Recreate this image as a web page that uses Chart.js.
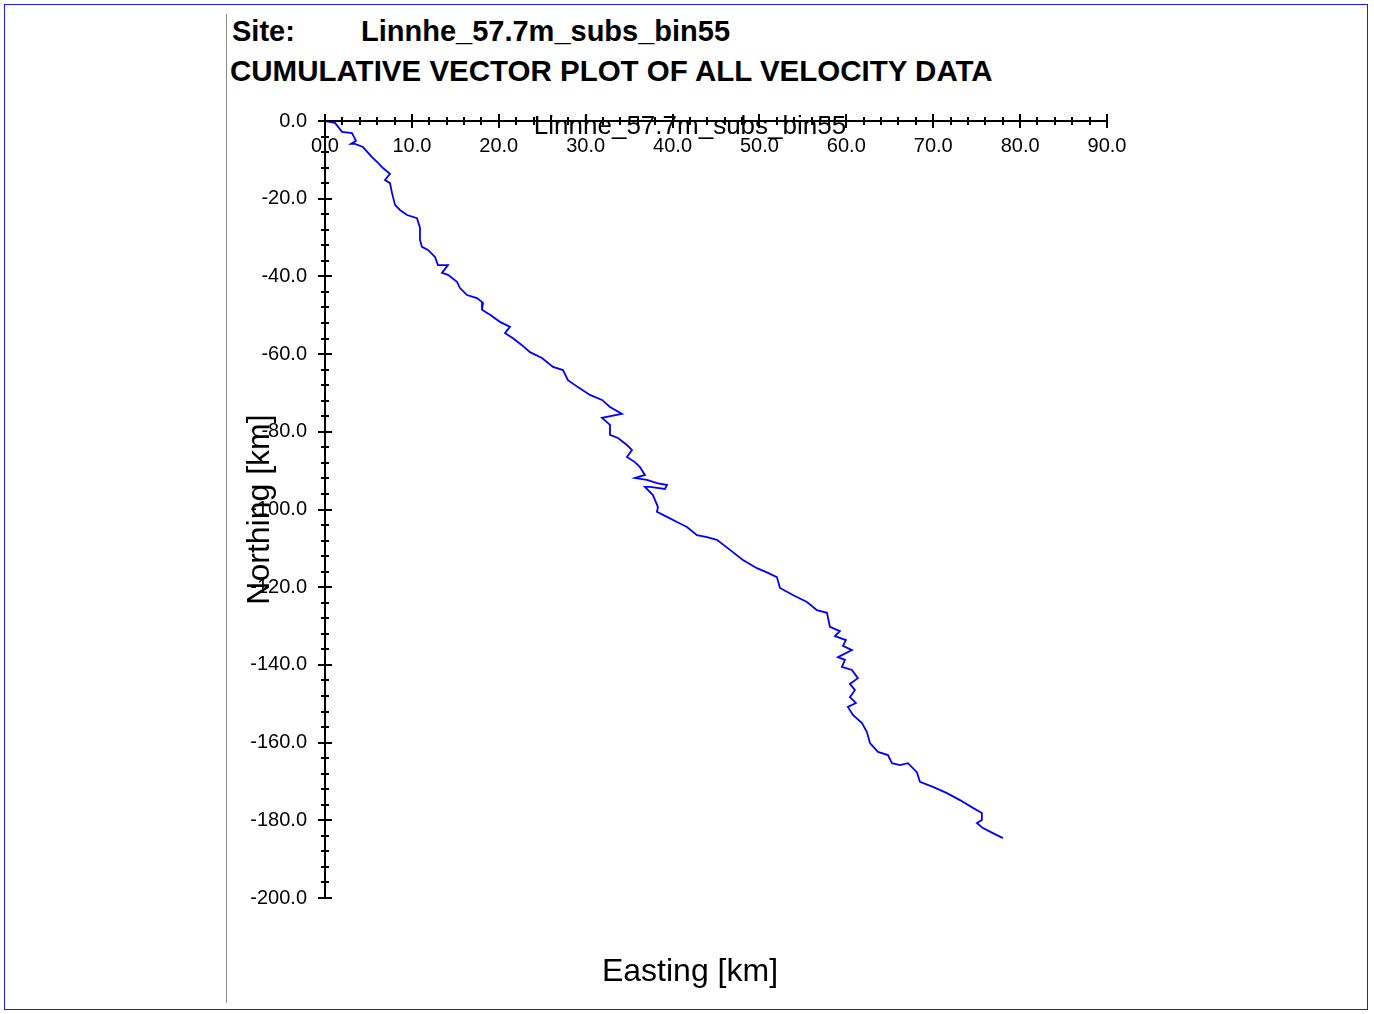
<!DOCTYPE html>
<html>
<head>
<meta charset="utf-8">
<title>Cumulative vector plot</title>
<script src="https://cdn.jsdelivr.net/npm/chart.js@4.4.1/dist/chart.umd.min.js"></script>
<style>
  body { margin: 0; background: #fff; font-family: "Liberation Sans", Arial, sans-serif; }
  #frame { position: absolute; left: 4px; top: 4px; width: 1362px; height: 1004px; border: 1px solid #1a1aff; }
  #rule { position: absolute; left: 226px; top: 14px; width: 1px; height: 989px; background: #8c8c8c; }
  .head { position: absolute; font-weight: bold; font-size: 29px; line-height: 34px; color: #000; white-space: nowrap; }
  #chart { position: absolute; left: 227px; top: 100px; }
</style>
</head>
<body>
<div id="frame"></div>
<div id="rule"></div>
<div class="head" style="left:232px; top:14px;">Site:</div>
<div class="head" style="left:361px; top:14px;">Linnhe_57.7m_subs_bin55</div>
<div class="head" style="left:230px; top:54px; font-size:29.5px;">CUMULATIVE VECTOR PLOT OF ALL VELOCITY DATA</div>
<canvas id="chart" width="926" height="903"></canvas>

<script>
// tick labels
const eastTicks = [0, 10, 20, 30, 40, 50, 60, 70, 80, 90];
const northTicks = [0, -20, -40, -60, -80, -100, -120, -140, -160, -180, -200];

// cumulative displacement, km
const eastKm = [
  0, 1.15, 1.96, 3.11, 3.57, 2.99, 3.45, 4.37, 5.41, 6.10, 6.67, 7.48, 6.90, 7.48, 7.71, 8.06,
  8.63, 9.44, 10.59, 10.93, 10.93, 11.16, 11.85, 12.66, 13.00, 14.15, 13.46, 14.15, 15.19, 15.54,
  16.34, 17.49, 18.18, 18.07, 18.99, 20.14, 21.29, 20.71, 21.63, 22.67, 23.59, 24.97, 26.24, 27.39,
  27.96, 29.11, 30.49, 31.88, 32.80, 34.18, 31.88, 32.80, 32.80, 33.72, 34.75, 35.33, 34.75, 35.67,
  36.25, 36.82, 35.67, 37.05, 38.20, 39.36, 39.13, 37.40, 36.82, 37.74, 38.32, 38.20, 39.36, 40.51,
  41.66, 42.81, 43.96, 45.11, 46.61, 48.10, 49.71, 50.98, 52.01, 52.36, 53.85, 55.47, 56.62, 57.77,
  58.11, 59.26, 58.69, 59.95, 59.61, 60.64, 59.03, 59.84, 59.49, 60.64, 61.33, 60.41, 60.99, 60.41,
  61.10, 60.18, 60.76,
  61.80, 62.37, 62.72, 63.64, 64.79, 65.25, 66.17, 67.09, 68.12, 68.47, 69.97, 71.58, 73.07, 74.57,
  75.60, 75.60, 75.03, 75.72, 76.87, 78.02
];
const northKm = [
  0, -0.5, -2.8, -3.1, -5.1, -5.9, -5.9, -6.7, -9.3, -10.8, -12.1, -13.6, -15.2, -16.0, -18.5, -21.6,
  -22.9, -24.2, -25.0, -27.5, -30.6, -32.4, -33.2, -35.0, -37.1, -37.1, -39.1, -39.6, -41.4, -43.0,
  -44.8, -45.6, -46.8, -48.6, -49.9, -51.7, -53.0, -54.6, -55.9, -57.7, -59.5, -61.0, -63.3, -64.1,
  -66.7, -68.5, -70.5, -71.8, -73.6, -75.4, -76.4, -78.2, -80.8, -81.6, -83.4, -84.7, -86.5, -87.8,
  -89.1, -91.1, -91.9, -92.4, -93.2, -93.7, -94.7, -94.2, -94.2, -96.3, -99.4, -100.6, -101.9, -103.2,
  -104.5, -106.6, -107.1, -107.8, -110.4, -113.0, -115.1, -116.3, -117.4, -120.2, -122.0, -123.8, -125.9, -126.6,
  -130.2, -131.3, -132.6, -133.6, -135.1, -136.2, -138.0, -138.7, -140.5, -141.3, -143.4, -144.9, -146.5, -148.3,
  -149.8, -150.8, -152.9,
  -155.0, -157.3, -160.1, -162.4, -163.2, -165.3, -165.8, -165.3, -167.6, -170.1, -171.4, -173.0, -174.8, -176.8,
  -178.1, -179.9, -180.7, -182.0, -183.3, -184.6
];

const FONT = "'Liberation Sans', Arial, sans-serif";

// little ticks that cross the axis lines, minor ones shorter
const crossTicks = {
  id: "crossTicks",
  afterDatasetsDraw(chart) {
    const xs = chart.scales.x, ys = chart.scales.y;
    const ctx = chart.ctx;
    const y0 = ys.getPixelForValue(0);
    const x0 = xs.getPixelForValue(0);
    ctx.save();
    ctx.strokeStyle = "#000";
    ctx.lineWidth = 2;
    ctx.beginPath();
    for (let v = 0; v <= 90; v += 2) {
      const px = Math.round(xs.getPixelForValue(v));
      const h = eastTicks.includes(v) ? 7 : 4;
      ctx.moveTo(px, y0 - h);
      ctx.lineTo(px, y0 + h);
    }
    for (let v = 0; v >= -200; v -= 4) {
      const py = Math.round(ys.getPixelForValue(v));
      const h = northTicks.includes(v) ? 7 : 4;
      ctx.moveTo(x0 - h, py);
      ctx.lineTo(x0 + h, py);
    }
    ctx.stroke();
    ctx.restore();
  }
};

new Chart(document.getElementById("chart"), {
  type: "scatter",
  data: {
    datasets: [{
      label: "Linnhe_57.7m_subs_bin55",
      data: eastKm.map((e, i) => ({ x: e, y: northKm[i] })),
      showLine: true,
      borderColor: "#0000ff",
      borderWidth: 1.8,
      pointRadius: 0,
      tension: 0,
      fill: false
    }]
  },
  options: {
    responsive: false,
    devicePixelRatio: 1,
    animation: false,
    layout: { padding: 0 },
    plugins: {
      legend: { display: false },
      tooltip: { enabled: false },
      title: {
        display: true,
        text: "Linnhe_57.7m_subs_bin55",
        color: "#000",
        font: { family: FONT, size: 26, weight: "normal" },
        padding: { top: 11.4, bottom: -21.6 }
      },
      subtitle: {
        display: true,
        position: "bottom",
        text: "Easting [km]",
        color: "#000",
        font: { family: FONT, size: 32, weight: "normal" },
        padding: { top: 54.8, bottom: 11.8 }
      }
    },
    scales: {
      x: {
        type: "linear",
        position: "top",
        min: 0,
        max: 90,
        afterFit: s => { s.height = 0; },
        afterBuildTicks: s => { s.ticks = eastTicks.map(v => ({ value: v })); },
        grid: { display: true, drawOnChartArea: false, drawTicks: false },
        border: { display: true, color: "#000", width: 2 },
        ticks: {
          mirror: true,
          padding: 13,
          maxRotation: 0,
          autoSkip: false,
          color: "#000",
          font: { family: FONT, size: 20 },
          callback: v => Number(v).toFixed(1)
        }
      },
      y: {
        type: "linear",
        position: "left",
        min: -200,
        max: 0,
        afterFit: s => { s.width = 98; s.paddingTop = 0; s.paddingBottom = 0; },
        afterBuildTicks: s => { s.ticks = northTicks.map(v => ({ value: v })); },
        grid: { display: true, drawOnChartArea: false, drawTicks: false },
        border: { display: true, color: "#000", width: 2 },
        title: {
          display: true,
          text: "Northing [km]",
          color: "#000",
          font: { family: FONT, size: 32, weight: "normal" },
          padding: { top: 13.8, bottom: 0 }
        },
        ticks: {
          padding: 18,
          autoSkip: false,
          color: "#000",
          font: { family: FONT, size: 20 },
          callback: v => Number(v).toFixed(1)
        }
      },
      // empty right-hand box so the titles centre where the original has them
      yRight: {
        type: "linear",
        position: "right",
        afterFit: s => { s.width = 46; },
        grid: { display: false, drawTicks: false },
        border: { display: false },
        ticks: { display: false }
      }
    }
  },
  plugins: [crossTicks]
});
</script>
</body>
</html>
